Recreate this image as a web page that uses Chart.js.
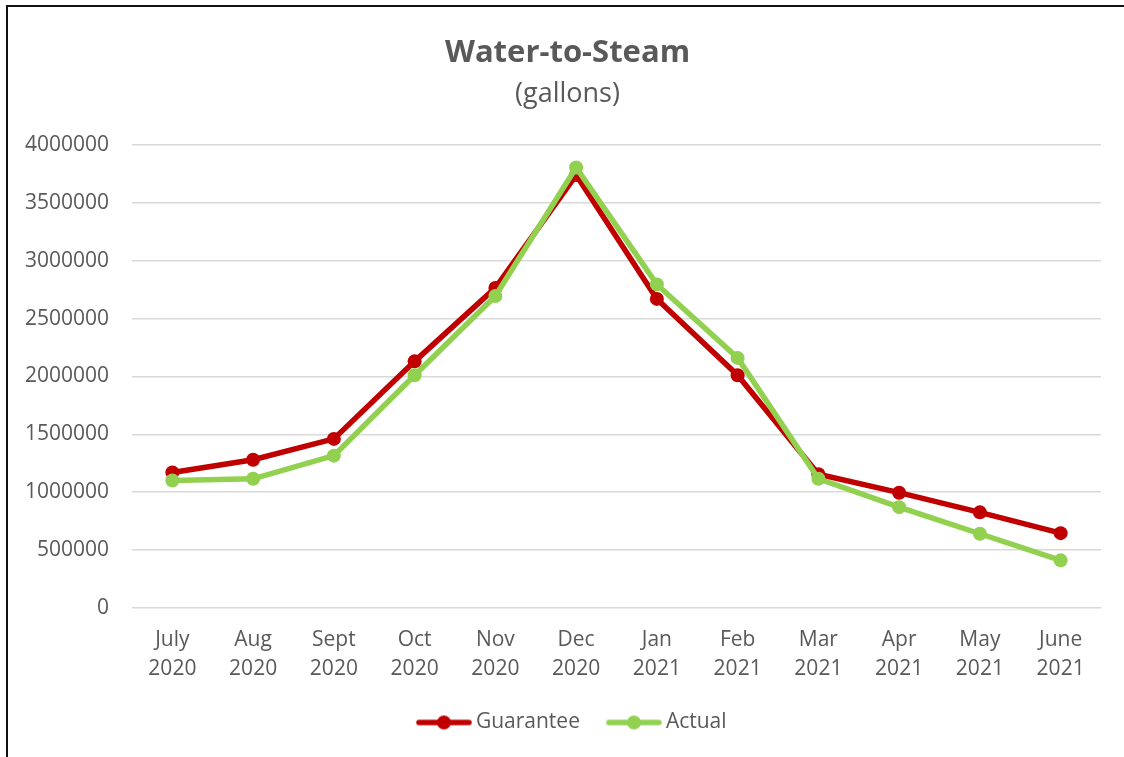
<!DOCTYPE html>
<html>
<head>
<meta charset="utf-8">
<title>Water-to-Steam</title>
<script src="https://cdn.jsdelivr.net/npm/chart.js"></script>
<style>
  html, body { margin: 0; padding: 0; background: #fff; overflow: hidden; }
  #box { position: absolute; left: 0; top: 0; width: 1135px; height: 757px; }
  #frame {
    position: absolute; left: 6px; top: 5px;
    width: 1200px; height: 800px;
    border-left: 2px solid #111; border-top: 2px solid #111;
    pointer-events: none;
  }
</style>
</head>
<body>
<div id="box"><canvas id="lineChart"></canvas></div>
<div id="frame"></div>
<script>
// months along the x axis (two-line labels)
const months = [
  ['July', '2020'], ['Aug', '2020'], ['Sept', '2020'], ['Oct', '2020'],
  ['Nov', '2020'], ['Dec', '2020'], ['Jan', '2021'], ['Feb', '2021'],
  ['Mar', '2021'], ['Apr', '2021'], ['May', '2021'], ['June', '2021']
];

const guarantee = [1170000, 1280000, 1460000, 2130000, 2765000, 3740000,
                   2670000, 2010000, 1155000, 995000, 825000, 645000];
const actual = [1100000, 1115000, 1315000, 2010000, 2695000, 3805000,
                2795000, 2160000, 1115000, 870000, 640000, 410000];

const textColor = '#595959';
const fontFamily = '"Open Sans", sans-serif';

// line + dot picture for the legend; transparent strip on the left
// pushes it away from the previous entry
function legendIcon(color) {
  const c = document.createElement('canvas');
  c.width = 70; c.height = 16;
  const ctx = c.getContext('2d');
  ctx.strokeStyle = color;
  ctx.lineWidth = 5.5;
  ctx.lineCap = 'round';
  ctx.beginPath();
  ctx.moveTo(17, 8); ctx.lineTo(67, 8);
  ctx.stroke();
  ctx.fillStyle = color;
  ctx.beginPath();
  ctx.arc(42, 8, 7, 0, Math.PI * 2);
  ctx.fill();
  return c;
}

new Chart(document.getElementById('lineChart'), {
  type: 'line',
  data: {
    labels: months,
    datasets: [
      {
        label: 'Guarantee',
        data: guarantee,
        borderColor: '#C00000',
        backgroundColor: '#C00000',
        borderWidth: 5.5,
        pointRadius: 7,
        pointHoverRadius: 7,
        pointBorderWidth: 0,
        tension: 0,
        order: 1
      },
      {
        label: 'Actual',
        data: actual,
        borderColor: '#92D050',
        backgroundColor: '#92D050',
        borderWidth: 5.5,
        pointRadius: 7,
        pointHoverRadius: 7,
        pointBorderWidth: 0,
        tension: 0,
        order: 0
      }
    ]
  },
  options: {
    responsive: true,
    maintainAspectRatio: false,
    animation: false,
    layout: { padding: { left: 2, right: 2, bottom: 14 } },
    scales: {
      x: {
        offset: true,
        grid: { display: false },
        border: { display: false },
        ticks: {
          color: textColor,
          padding: 10.5,
          maxRotation: 0,
          font: { family: fontFamily, size: 21, lineHeight: 1.35 }
        }
      },
      y: {
        min: 0,
        max: 4000000,
        afterFit: (scale) => { scale.width = 130; },
        grid: { color: '#d9d9d9', lineWidth: 1.5, drawTicks: false },
        border: { display: false },
        ticks: {
          stepSize: 500000,
          color: textColor,
          padding: 23,
          font: { family: fontFamily, size: 21 },
          callback: (v) => String(v)
        }
      },
      // empty strip on the right so the legend sits where the original has it
      yPad: {
        position: 'right',
        afterFit: (scale) => { scale.width = 32; },
        grid: { display: false },
        border: { display: false },
        ticks: { display: false }
      }
    },
    plugins: {
      title: {
        display: true,
        text: 'Water-to-Steam',
        color: textColor,
        font: { family: fontFamily, size: 31, weight: 'bold', lineHeight: 1.2 },
        padding: { top: 34.4, bottom: 4 }
      },
      subtitle: {
        display: true,
        text: '(gallons)',
        color: textColor,
        font: { family: fontFamily, size: 27, lineHeight: 1.2 },
        padding: { top: 3, bottom: 34 }
      },
      legend: {
        position: 'bottom',
        labels: {
          usePointStyle: true,
          pointStyleWidth: 57,
          padding: 18.5,
          color: textColor,
          font: { family: fontFamily, size: 21 },
          generateLabels: (chart) => chart.data.datasets.map((ds, i) => ({
            text: ds.label,
            pointStyle: legendIcon(ds.borderColor),
            fillStyle: ds.borderColor,
            strokeStyle: ds.borderColor,
            lineWidth: 0,
            fontColor: textColor,
            hidden: !chart.isDatasetVisible(i),
            datasetIndex: i
          }))
        }
      },
      tooltip: { enabled: false }
    }
  }
});
</script>
</body>
</html>
